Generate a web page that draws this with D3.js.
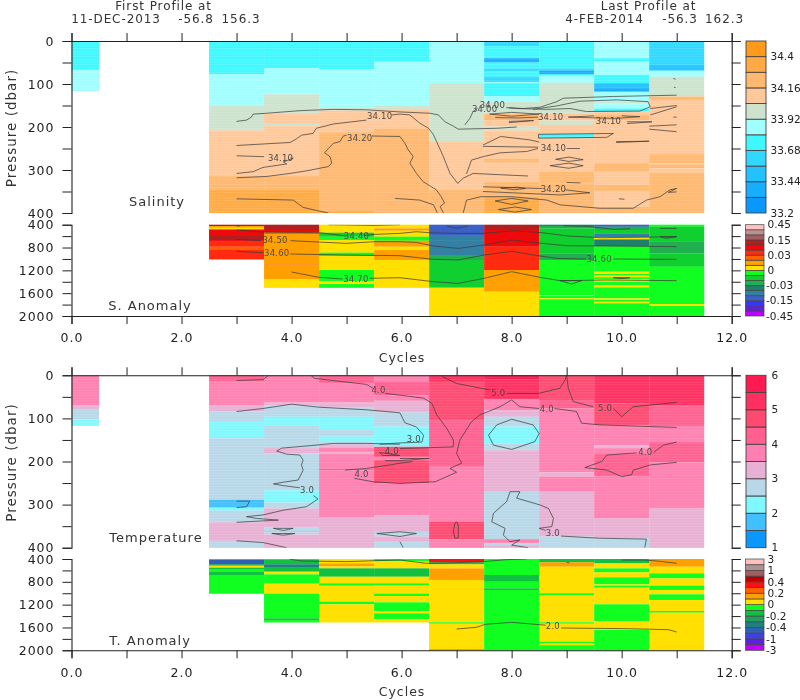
<!DOCTYPE html>
<html>
<head>
<meta charset="utf-8">
<script src="https://cdn.jsdelivr.net/npm/d3@7"></script>
<style>
html,body{margin:0;padding:0;background:#fff;}
svg{display:block;filter:blur(0.35px);}
text{font-family:"DejaVu Sans",sans-serif;fill:#333;}
</style>
</head>
<body>
<svg id="chart" width="800" height="700"></svg>
<script>
// ---------- Colour levels (value boundaries, low to high) ----------
const salinityLevels = [33.32,33.44,33.56,33.68,33.8,33.92,34.04,34.16,34.28,34.4];
const salinityColors = ["#0a98ff","#16aeff","#22c2ff","#30d8ff","#3ff8ff","#a0ffff","#cde3cd","#ffc89a","#ffb870","#ffaa44","#ff9a1a"];
const salinityTicks = [33.2,33.44,33.68,33.92,34.16,34.4];

const tempLevels = [1.5,2,2.5,3,3.5,4,4.5,5,5.5];
const tempColors = ["#0a98ff","#40c0ff","#80f8ff","#b8d8e8","#e8b0d4","#ff80b0","#ff6090","#ff4a70","#ff3060","#ff1a50"];
const tempTicks = [1,2,3,4,5,6];

const salAnomLevels = [-.35,-.25,-.15,-.11,-.07,-.03,-.02,-.01,0,.01,.02,.03,.07,.11,.15,.25,.35];
const salAnomColors = ["#c000ff","#6020e0","#3838ee","#3c60c8","#3480a4","#208070","#20b050","#10d030","#10ff20","#ffe000","#ffa000","#ff6000","#ff2a10","#ee0a0a","#b02020","#a06060","#c09090","#ffc0c0"];
const salAnomTicks = ["-0.45","-0.15","-0.03","0","0.03","0.15","0.45"];

const tempAnomLevels = [-2,-1,-.7,-.4,-.3,-.2,-.1,0,.1,.2,.3,.4,.7,1,2];
const tempAnomColors = ["#c000ff","#6020e0","#4040e0","#3060b0","#208080","#20a060","#10c040","#10ff20","#ffe000","#ffa000","#ff6000","#ff1010","#c00000","#a06060","#b09090","#ffc0c0"];
const tempAnomTicks = ["-3","-1","-0.4","-0.2","0","0.2","0.4","1","3"];

// ---------- Axis ticks ----------
const cycleTicks = [0,1,2,3,4,5,6,7,8,9,10,11,12];
const upperPressureTicks = [0,50,100,150,200,250,300,350,400];
const lowerPressureTicks = [400,600,800,1000,1200,1400,1600,1800,2000];

// ---------- Profiles: [cycle, [[bottom pressure, value], ...]] ----------
const salinityColumns = [
 [0,[[67,33.74],[116,33.86]]],
 [3,[[77,33.74],[150,33.86],[208,33.98],[314,34.1],[346,34.2],[400,34.34]]],
 [4,[[63,33.74],[124,33.86],[170,33.98],[193,34.1],[198,33.98],[314,34.1],[346,34.2],[400,34.34]]],
 [5,[[66,33.74],[155,33.86],[162,33.98],[212,34.1],[394,34.2],[400,34.34]]],
 [6,[[48,33.74],[151,33.86],[160,33.98],[203,34.1],[400,34.2]]],
 [7,[[98,33.86],[234,33.98],[345,34.1],[400,34.2]]],
 [8,[[12,33.62],[40,33.74],[50,33.38],[64,33.74],[71,33.62],[83,33.74],[95,33.62],[98,33.86],[128,33.74],[141,33.86],[170,33.98],[184,34.2],[199,34.1],[208,33.98],[273,34.1],[283,34.2],[327,34.1],[362,34.2],[400,34.34]]],
 [9,[[64,33.74],[69,33.62],[77,33.38],[81,33.74],[97,33.86],[169,33.98],[185,34.1],[195,33.98],[216,34.1],[226,33.74],[304,34.1],[331,34.2],[400,34.2]]],
 [10,[[40,33.86],[48,33.74],[79,33.86],[98,33.74],[108,33.5],[118,33.38],[141,33.86],[145,33.98],[157,33.86],[164,33.74],[172,34.1],[184,34.2],[284,34.1],[304,34.2],[335,34.1],[350,34.2],[385,34.1],[400,34.2]]],
 [11,[[56,33.62],[69,33.5],[83,33.86],[129,33.98],[137,34.2],[263,34.1],[284,34.2],[288,34.1],[296,34.2],[306,34.1],[400,34.2]]]
];
const salAnomColumns = [
 [3,[[423,.13],[453,.015],[476,.005],[493,.025],[581,.09],[669,.13],[686,.09],[785,.05],[832,.025],[1007,.05]]],
 [4,[[493,.13],[528,.09],[564,.025],[1100,.015],[1115,.025],[1352,.015],[1504,.005]]],
 [5,[[540,.005],[610,-.015],[669,-.005],[698,.005],[890,.005],[949,-.005],[1194,.005],[1387,-.005],[1440,.005],[1504,-.005]]],
 [6,[[464,.005],[505,.015],[610,.005],[680,-.005],[785,.015],[844,.005],[1019,.015],[1504,.005]]],
 [7,[[581,-.13],[669,-.09],[931,-.09],[1019,-.025],[1504,-.015],[2000,.005]]],
 [8,[[493,.13],[785,.09],[1194,.05],[1440,.015],[1574,.015],[2000,.005]]],
 [9,[[423,-.05],[464,-.025],[902,-.015],[1019,-.025],[1632,-.005],[1650,.005],[1690,-.005],[1708,.005],[2000,-.005]]],
 [10,[[435,-.13],[493,-.025],[552,-.015],[622,-.09],[657,.005],[774,-.05],[1223,-.005],[1264,.005],[1290,-.005],[1320,.005],[1350,-.005],[1399,.005],[1457,-.005],[1498,.005],[1690,-.005],[1720,.005],[1750,-.005],[1778,.005],[2000,-.005]]],
 [11,[[435,-.005],[698,-.015],[902,-.025],[1136,-.015],[1790,-.005],[1825,.005],[2000,-.005]]]
];
const temperatureColumns = [
 [0,[[69,3.75],[78,3.25],[102,2.75],[117,2.25]]],
 [3,[[13,4.25],[69,3.75],[84,3.25],[106,2.75],[146,2.25],[289,2.75],[307,1.75],[314,2.25],[341,2.75],[384,3.25],[400,2.75]]],
 [4,[[63,3.75],[70,3.25],[96,2.75],[117,2.25],[169,2.75],[181,3.25],[267,2.75],[295,2.25],[309,2.75],[353,3.25],[361,2.75],[364,3.25],[369,2.75],[400,3.25]]],
 [5,[[19,4.25],[63,3.75],[75,3.25],[96,2.75],[127,2.25],[142,2.75],[155,2.25],[160,2.75],[168,3.25],[179,3.75],[182,3.25],[216,3.75],[220,4.25],[330,3.75],[400,3.25]]],
 [6,[[15,3.75],[46,4.25],[59,3.75],[86,3.25],[119,2.75],[162,2.25],[166,2.75],[189,4.75],[197,3.75],[251,4.75],[324,3.75],[363,3.25],[374,2.75],[386,3.25],[400,2.75]]],
 [7,[[15,5.25],[104,4.75],[212,4.25],[340,3.75],[380,4.75],[400,3.75]]],
 [8,[[10,5.75],[55,5.25],[81,3.75],[96,3.25],[119,2.75],[158,2.25],[174,2.75],[270,3.25],[380,2.75],[390,3.75],[394,2.75],[400,3.25]]],
 [9,[[57,4.75],[77,4.25],[225,3.75],[235,3.25],[270,3.75],[374,3.25],[400,2.75]]],
 [10,[[65,5.25],[115,4.75],[162,3.75],[169,3.25],[181,3.75],[234,4.25],[332,3.75],[378,3.25],[400,2.75]]],
 [11,[[69,5.25],[119,4.25],[155,3.75],[202,4.25],[309,3.75],[400,3.25]]]
];
const tempAnomColumns = [
 [3,[[412,-.05],[490,-.55],[517,-.25],[552,.05],[575,-.15],[622,-.05],[680,-.15],[1007,-.05]]],
 [4,[[418,-.05],[493,-.15],[552,-.35],[622,-.15],[669,.05],[832,-.05],[1007,.05],[1440,-.05],[1470,-.15],[1510,-.05]]],
 [5,[[476,.05],[528,.15],[564,.05],[710,-.15],[826,.05],[867,-.05],[1148,.05],[1194,-.05],[1510,.05]]],
 [6,[[435,-.05],[564,.05],[710,-.15],[826,.05],[856,-.05],[1007,.05],[1048,-.05],[1159,.05],[1311,-.05],[1352,.05],[1451,-.05],[1510,.05]]],
 [7,[[458,.35],[493,-.15],[564,.05],[768,.15],[1510,.05],[1533,-.05],[1977,.05],[2000,.15]]],
 [8,[[680,-.05],[797,-.15],[914,-.05],[943,-.15],[2000,-.05]]],
 [9,[[458,-.15],[534,.15],[1000,.05],[1031,-.05],[1510,.05],[1533,-.05],[1848,.05],[1880,-.05],[1910,.05],[2000,-.05]]],
 [10,[[476,-.15],[564,.05],[634,-.05],[721,.05],[844,-.05],[867,.05],[902,-.05],[1194,.05],[1486,-.05],[1644,.05],[2000,-.05]]],
 [11,[[534,.15],[651,.05],[739,-.05],[867,.05],[943,-.05],[1019,.05],[1118,-.05],[1311,.05],[1340,-.05],[2000,.05]]]
];

// ---------- Contours: lists of [cycle, pressure] ----------
const salinityContours = [
 [[3,187],[3.18,184],[3.27,177],[3.3,170],[3.55,168],[4.15,162],[4.76,159],[5.36,160],[5.97,165],[6.52,168],[6.67,172],[6.79,188],[6.94,198],[7.03,205],[7.73,203],[8.09,200]],
 [[7.15,195],[7.24,180],[7.3,164],[7.38,156]],
 [[7.95,155],[8.21,157],[8.52,154],[8.82,141],[8.94,133],[9.85,129],[11,126]],
 [[8.39,159],[8.82,151],[9.24,140],[9.91,137],[10.48,141],[10.52,153],[10.33,163],[9.36,164],[9.06,157],[8.64,159],[8.09,157],[7.9,155]],
 [[3,243],[3.97,236],[4.06,230],[4.18,219],[4.39,215],[4.45,203],[4.76,193],[5.36,184]],
 [[5.82,172],[5.97,170],[6.15,172],[6.33,191],[6.49,203],[6.58,218],[6.76,269],[6.88,308],[7.02,331],[7.12,319],[7.3,308],[8.3,314]],
 [[7.18,309],[7.27,277],[7.48,269],[7.79,260],[8.27,257],[8.48,250]],
 [[9,250],[9.24,250]],
 [[3,267],[3.5,269]],[[3.98,272],[4.03,273],[3.85,281],[3.91,286],[3.48,294],[3.3,304],[3,308]],
 [[3,318],[3.55,315],[3.97,308],[4.27,302],[4.67,292],[4.73,284],[4.7,269],[4.6,260],[4.67,250],[4.76,238],[4.88,234],[4.94,221],[5.0,219]],
 [[5.46,221],[5.97,222],[6.06,238],[6.12,253],[6.21,269],[6.15,284],[6.27,308],[6.39,327],[6.63,346],[6.72,362],[6.78,377],[6.7,385],[6.76,400]],
 [[3,367],[4.03,370],[4.21,387],[4.45,394],[4.67,400]],
 [[5.88,366],[6.33,370],[6.58,381],[6.65,400]],
 [[7.12,400],[7.18,370],[7.45,362],[8,362],[8.64,370],[8.88,381],[9.6,389],[10.21,389],[10.45,370],[10.7,362],[10.88,346],[11,343],[10.85,352],[11,351]],
 [[7.48,339],[8.55,343]],[[8.97,346],[9.42,353],[8.88,358],[7.48,350]],
 [[7.8,342],[8.1,340],[8.25,343],[8.05,346],[7.8,342]],
 [[7.7,372],[8,366],[8.3,372],[8,380],[7.7,372]],
 [[7.76,392],[8.06,386],[8.36,392],[8.06,398],[7.76,392]],
 [[7.6,170],[8,166],[8.5,170],[8,175],[7.6,170]],
 [[7.7,178],[8.1,179],[8.48,177]],
 [[7.95,187],[8.4,185],[7.95,190]],
 [[9.03,177],[9.5,174]],[[10,174],[10.33,176],[9.9,180],[9.03,177]],
 [[10.1,188],[10.55,188],[10.1,192]],
 [[10.52,157],[11,150]],[[10.52,172],[11,153]],
 [[10.5,198],[11,195]],[[10.5,205],[11,211]],
 [[8.49,217],[9.85,215],[9.73,224],[8.49,226],[8.49,217]],
 [[7.48,242],[7.8,222],[8.33,230],[8.5,235]],
 [[9.9,234],[10.5,233],[9.9,236]],
 [[7.48,245],[8.48,247]],
 [[8.7,290],[9.04,284],[9.3,290],[9.04,296],[8.7,290]],
 [[8.8,275],[9.04,270],[9.3,276],[9.04,280],[8.8,275]],
 [[9,329],[9.25,330]],[[9.95,367],[10.05,368]],
 [[10.94,87],[10.98,89]],[[10.95,108],[10.98,108]],[[10.94,177],[11,177]]
];
const salAnomContours = [
 [[3,423],[3.06,423]],[[4.67,400],[5.5,412],[5.97,400]],
 [[6.82,423],[7,464],[7.2,423]],
 [[8.94,418],[9.4,430],[9.85,482],[10.15,470]],[[10.7,464],[11,464]],
 [[3,493],[3.48,528],[4.5,540],[5,600]],
 [[5.32,590],[5.5,570],[5.97,552],[6.27,523],[6.5,540],[7,552],[7.5,552],[8.03,505],[8.55,540],[9.03,599],[9.64,628],[11,610]],
 [[3,657],[3.44,680]],[[3.98,680],[4.5,704],[5,727],[5.5,698],[5.97,698],[6.27,710],[6.58,774],[7.03,815],[7.5,756],[8,669],[8.55,727],[9,768],[11,785]],
 [[3,867],[3.48,891]],[[3.98,914],[5,931],[5.97,943],[6.58,1007],[7.03,1019],[7.5,931],[8,867],[8.52,949],[8.82,990],[9.35,1001]],[[9.85,1001],[11,1007]],
 [[4,1229],[4.5,1323],[4.93,1352]],[[5.42,1340],[5.97,1329],[6.58,1399],[7.03,1428],[7.5,1340],[8,1223],[8.52,1323],[8.88,1381],[9.73,1369],[11,1381]],
 [[8.88,1381],[9.27,1381],[9.09,1440],[8.88,1381]],
 [[9.85,1329],[10.15,1329],[10,1345],[9.85,1329]],
 [[10.7,610],[11,610],[10.8,640],[10.7,610]]
];
const temperatureContours = [
 [[3,12],[3.48,10],[3.58,0]],
 [[4.35,0],[4.42,7],[4.94,15],[5.36,21],[5.48,30]],
 [[5.7,42],[5.97,46],[6.4,53],[6.55,65],[6.64,92],[6.82,123],[6.94,150],[6.94,166],[6.5,168],[5.97,170]],
 [[3,84],[3.48,77],[4,67],[4.5,74],[5.36,80],[5.97,87],[6.06,110],[6.27,120],[6.4,139],[6.37,155],[5.97,157],[5.6,160]],
 [[6.74,3],[7,19],[7.61,34]],[[7.91,42],[8.49,42],[8.88,30],[8.97,11],[9,0],[9.03,30],[9.12,61],[9.48,73]],
 [[9.85,77],[10,96],[10.21,73],[11,63]],
 [[4.97,220],[5.36,216],[5.79,208],[5.97,204],[6.2,200]],
 [[5.14,239],[5.48,247],[5.97,251],[6.61,247],[7,225],[6.88,216],[7.09,204],[7,181],[7.06,150],[7.27,108],[7.42,92],[7.79,73],[8,57],[8.15,73],[8.5,77]],
 [[8.78,77],[9.18,84],[9.27,111],[9.6,115],[11,121]],
 [[5.97,193],[6.5,193],[5.97,198],[5.7,198]],
 [[5.6,179],[5.97,186],[5.65,186],[5.6,179]],
 [[3.73,176],[3.82,169],[4.36,163],[4.76,158],[5.36,158],[5.97,160]],
 [[3.73,176],[3.91,183],[4.15,185],[4.21,197],[4.18,208],[4.21,220],[4.12,243],[3.85,248],[3.67,252],[3.85,256],[4.15,261]],
 [[4.4,279],[4.48,287],[4.27,305],[3.85,313],[3.48,324],[3.18,328],[3.36,332],[3.76,336],[3,341]],
 [[3,292],[3.24,292],[3.18,305],[3,307]],
 [[3,384],[3.48,388],[3.91,400]],
 [[3.67,355],[4.03,355],[3.85,360],[3.67,355]],
 [[3.64,367],[4.06,367],[3.85,371],[3.64,367]],
 [[5.55,367],[5.97,363],[6.27,367],[5.97,374],[5.55,367]],
 [[5.97,386],[6.03,400]],
 [[6.97,343],[7,340],[7.03,347],[7.03,378],[6.97,378],[6.94,363],[6.97,343]],
 [[7.58,139],[7.73,115],[8,102],[8.39,115],[8.5,135],[8.42,154],[8,172],[7.67,162],[7.58,139]],
 [[7.97,270],[8.15,270],[8.09,285],[8.52,301],[8.67,309],[8.76,332],[8.73,351],[8.5,355],[8.62,360]],
 [[8.9,373],[9.6,378],[10.45,380],[10.42,400]],
 [[7.97,270],[7.91,293],[7.67,320],[7.64,340],[7.88,355],[7.85,371],[7.97,386],[8.15,382],[8,394],[8.3,400]],
 [[11,155],[10.76,162],[10.58,179]],[[10.27,180],[9.73,185],[9.64,200],[9.33,214],[9.73,220],[10,235],[10.18,231],[10.21,220],[10.52,208],[11,202]]
];
const tempAnomContours = [
 [[3.97,406],[4.2,435],[5,446],[5.5,430],[5.97,418],[6.45,476],[7,464],[7.48,446],[7.9,412],[8.27,400]],
 [[10,418],[10.4,418],[10.65,435],[11,476]],
 [[9,462],[9.05,466]],
 [[7,1627],[7.36,1597],[7.52,1545],[8,1510],[8.62,1560]],
 [[8.9,1609],[10.1,1621],[10.85,1638],[11,1679]]
];
// Contour labels: [text, cycle, pressure]
const salinityLabels = [["34.10",5.6,174],["34.20",5.24,226],["34.10",3.8,273],["34.00",7.65,149],["34.00",7.51,158],["34.10",8.71,176],["34.10",9.76,185],["34.10",8.76,248],["34.20",8.76,344]];
const salAnomLabels = [["34.50",3.7,669],["34.60",3.73,902],["34.40",5.18,593],["34.70",5.17,1352],["34.60",9.59,996]];
const temperatureLabels = [["4.0",5.58,34],["4.0",5.82,176],["4.0",5.27,228],["3.0",4.28,267],["3.0",6.22,148],["5.0",7.76,40],["4.0",8.64,78],["5.0",9.7,77],["4.0",10.43,179],["3.0",8.75,367]];
const tempAnomLabels = [["2.0",8.75,1574]];

// ---------- Text ----------
const headerLines = [
 ["First Profile at",163.5,6],["11-DEC-2013",116,18.3],["-56.8",196,18.3],["156.3",241,18.3],
 ["Last Profile at",648.5,6],["4-FEB-2014",604.5,18.3],["-56.3",680,18.3],["162.3",724.5,18.3]
];

// ---------- Layout ----------
const svg = d3.select("#chart");
const x = d3.scaleLinear().domain([0,12]).range([71.5,731.7]);
const contourLine = (xs,ys)=>d3.line().x(d=>xs(d[0])).y(d=>ys(d[1]));
const defs = svg.append("defs");
const stripe = defs.append("pattern").attr("id","stripes").attr("patternUnits","userSpaceOnUse").attr("width",4).attr("height",2.67);
stripe.append("rect").attr("width",4).attr("height",1).attr("fill","#fff").attr("fill-opacity",.13);
const textG = svg.append("g");

function drawPanel(o){
  const y = d3.scaleLinear().domain(o.pressure).range(o.py);
  const color = d3.scaleThreshold().domain(o.levels).range(o.colors);
  const g = svg.append("g");
  o.columns.forEach(([cycle,bands])=>{
    let top = o.pressure[0];
    const x0 = x(Math.max(0,cycle-.5)), w = x(cycle+.5)-x0;
    const col = g.append("g");
    col.selectAll("rect").data(bands.map(([bottom,val])=>{const r={t:top,b:bottom,v:val};top=bottom;return r;}))
      .join("rect")
      .attr("x",x0).attr("width",w)
      .attr("y",d=>y(d.t)).attr("height",d=>y(d.b)-y(d.t)+0.15)
      .attr("fill",d=>color(d.v));
    if(o.stripes){
      col.append("rect").attr("x",x0).attr("width",w).attr("y",o.py[0])
        .attr("height",y(bands[bands.length-1][0])-o.py[0]).attr("fill","url(#stripes)");
    }
  });
  const clipId = "clip"+o.name;
  defs.append("clipPath").attr("id",clipId).append("rect").attr("x",x(0)).attr("width",x(12)-x(0)).attr("y",o.py[0]).attr("height",o.py[1]-o.py[0]);
  const cg = g.append("g").attr("clip-path",`url(#${clipId})`);
  cg.selectAll("path").data(o.contours).join("path")
    .attr("d",contourLine(x,y)).attr("fill","none").attr("stroke","#3a3a3a").attr("stroke-opacity",.8).attr("stroke-width",.9);
  cg.selectAll("text").data(o.labels).join("text")
    .attr("x",d=>x(d[1])).attr("y",d=>y(d[2])).attr("dy","0.35em").attr("text-anchor","middle")
    .attr("font-size",8.5).style("fill","#4a4a4a").style("letter-spacing","0.2px").text(d=>d[0]);
  // axes
  const axisG = svg.append("g");
  const fmtLeft = d=>(o.major.includes(d)?String(d):"");
  axisG.append("g").attr("transform",`translate(${x(0)},0)`)
    .call(d3.axisLeft(y).tickValues(o.ticks).tickSize(9).tickPadding(8).tickFormat(fmtLeft));
  axisG.append("g").attr("transform",`translate(${x(12)},0)`)
    .call(d3.axisRight(y).tickValues(o.ticks).tickSize(9).tickFormat(""));
  if(o.topAxis){
    axisG.append("g").attr("transform",`translate(0,${o.py[0]})`)
      .call(d3.axisTop(x).tickValues(cycleTicks).tickSize(8).tickFormat(""));
  }
  if(o.bottomAxis){
    axisG.append("g").attr("transform",`translate(0,${o.py[1]})`)
      .call(d3.axisBottom(x).tickValues(cycleTicks).tickSize(8).tickPadding(9.5).tickFormat(d=>d%2===0?d.toFixed(1):""));
  }
  axisG.selectAll("path.domain").attr("stroke","#222").attr("stroke-width",1.1);
  axisG.selectAll(".tick line").attr("stroke","#222").attr("stroke-width",1);
  axisG.selectAll("text").attr("font-size",12.5).style("font-family",'"DejaVu Sans",sans-serif').style("fill","#222").style("letter-spacing","1px");
  // colour bar
  const n = o.colors.length;
  const seg = d3.scaleBand().domain(d3.range(n)).range([o.py[1],o.py[0]]);
  const cb = svg.append("g");
  cb.selectAll("rect").data(o.colors).join("rect")
    .attr("x",o.cbx[0]).attr("width",o.cbx[1]-o.cbx[0])
    .attr("y",(d,i)=>seg(i)).attr("height",seg.bandwidth())
    .attr("fill",d=>d).attr("stroke","#444").attr("stroke-width",o.cbs||.9);
  const tl = d3.scaleLinear().domain([0,o.cbTicks.length-1]).range([o.py[1],o.py[1]-seg.bandwidth()*o.cbStep*(o.cbTicks.length-1)]);
  cb.selectAll("text").data(o.cbTicks).join("text")
    .attr("x",d=>o.cbx[1]+(o.cbtx||4)+(String(d)[0]==="-"?-1.5:0)).attr("y",(d,i)=>tl(i)).attr("dy","0.35em")
    .attr("font-size",10.5).style("fill","#222").text(d=>d);
  // name + y label
  textG.append("text").attr("x",o.title[1]).attr("y",o.title[2]).attr("dy","0.35em").attr("text-anchor","middle")
    .attr("font-size",13).style("letter-spacing","1px").text(o.title[0]);
  if(o.ylabel){
    textG.append("text").attr("transform",`translate(11,${(o.py[0]+o.py[1])/2+1}) rotate(-90)`).attr("dy","0.35em").attr("text-anchor","middle")
      .attr("font-size",13.5).style("letter-spacing","1px").text("Pressure (dbar)");
  }
}

drawPanel({name:"a",pressure:[0,400],py:[41,213],levels:salinityLevels,colors:salinityColors,columns:salinityColumns,contours:salinityContours,labels:salinityLabels,stripes:true,
  ticks:upperPressureTicks,major:[0,100,200,300,400],topAxis:true,cbx:[746,766],cbTicks:salinityTicks,cbStep:2,cbtx:4.5,title:["Salinity",157,201],ylabel:true});
drawPanel({name:"b",pressure:[400,2000],py:[224.7,316],levels:salAnomLevels,colors:salAnomColors,columns:salAnomColumns,contours:salAnomContours,labels:salAnomLabels,
  ticks:lowerPressureTicks,major:[400,800,1200,1600,2000],bottomAxis:true,cbx:[745.5,764],cbs:.7,cbTicks:salAnomTicks,cbStep:3,cbtx:3.5,title:["S. Anomaly",150,305]});
drawPanel({name:"c",pressure:[0,400],py:[375.3,547.7],levels:tempLevels,colors:tempColors,columns:temperatureColumns,contours:temperatureContours,labels:temperatureLabels,stripes:true,
  ticks:upperPressureTicks,major:[0,100,200,300,400],topAxis:true,cbx:[746,766],cbTicks:tempTicks,cbStep:2,cbtx:5.5,title:["Temperature",156,537],ylabel:true});
drawPanel({name:"d",pressure:[400,2000],py:[559,650.3],levels:tempAnomLevels,colors:tempAnomColors,columns:tempAnomColumns,contours:tempAnomContours,labels:tempAnomLabels,
  ticks:lowerPressureTicks,major:[400,800,1200,1600,2000],bottomAxis:true,cbx:[745.5,764],cbs:.7,cbTicks:tempAnomTicks,cbStep:2,cbtx:3.5,title:["T. Anomaly",150,640]});

[["Cycles",402,358],["Cycles",402,691.5]].forEach(([t,px,py])=>{
  textG.append("text").attr("x",px).attr("y",py).attr("dy","0.35em").attr("text-anchor","middle")
    .attr("font-size",12.5).style("letter-spacing","1px").text(t);
});
textG.selectAll(".hdr").data(headerLines).join("text").attr("class","hdr")
  .attr("x",d=>d[1]).attr("y",d=>d[2]).attr("dy","0.35em").attr("text-anchor","middle")
  .attr("font-size",12).style("letter-spacing","0.9px").text(d=>d[0]);
textG.raise();
</script>
</body>
</html>
